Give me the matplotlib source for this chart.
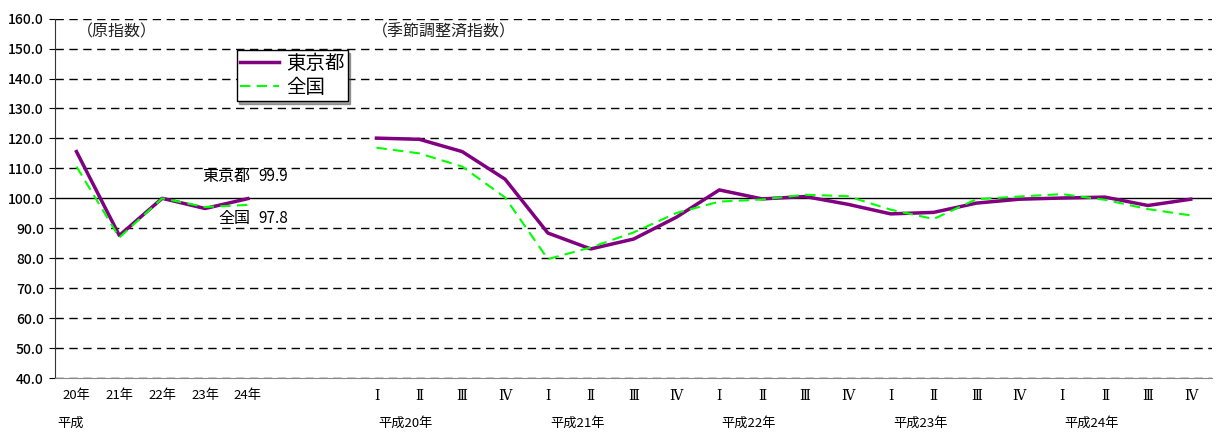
import numpy as np
import matplotlib
matplotlib.use('Agg')
import matplotlib.pyplot as plt
import matplotlib.transforms as mtransforms

plt.rcParams['font.family'] = ['Noto Sans CJK JP', 'DejaVu Sans']

# annual values (original index)
years = ['20年', '21年', '22年', '23年', '24年']
tokyo_year = [115.6, 87.6, 100.0, 96.6, 99.9]
zenkoku_year = [110.6, 86.9, 100.0, 97.1, 97.8]

# quarterly values (seasonally adjusted)
quarters = ['Ⅰ', 'Ⅱ', 'Ⅲ', 'Ⅳ'] * 5
quarter_years = ['平成20年', '平成21年', '平成22年', '平成23年', '平成24年']
tokyo_q = [120.1, 119.7, 115.6, 106.4,
           88.4, 83.1, 86.4, 93.7,
           102.8, 99.8, 100.6, 98.0,
           94.8, 95.3, 98.4, 99.7,
           100.1, 100.4, 97.6, 99.7]
zenkoku_q = [116.9, 115.0, 110.6, 100.3,
             79.7, 83.6, 88.6, 95.1,
             98.9, 99.6, 101.2, 100.7,
             96.2, 93.1, 99.7, 100.6,
             101.4, 99.5, 96.4, 94.3]

gap = 2
x_year = np.arange(len(years))
x_q = np.arange(len(quarters)) + len(years) + gap
n_cat = len(years) + gap + len(quarters)

fig = plt.figure(figsize=(12.18, 4.33), dpi=100)
ax = fig.add_axes([0.0452, 0.127, 0.950, 0.830])

purple = '#800080'
green = '#00FF00'

ax.plot(x_year, tokyo_year, color=purple, lw=2.5, label='東京都')
ax.plot(x_year, zenkoku_year, color=green, lw=1.5, ls=(0, (5, 3)), label='全国')
ax.plot(x_q, tokyo_q, color=purple, lw=2.5)
ax.plot(x_q, zenkoku_q, color=green, lw=1.5, ls=(0, (5, 3)))

ax.set_xlim(-0.5, n_cat - 0.5)
ax.set_ylim(40, 160)
yt = np.arange(40, 161, 10)
ax.set_yticks(yt)
ax.set_yticklabels(['%.1f' % v for v in yt], fontsize=10, fontweight='medium')
for v in yt:
    if v == 100:
        ax.axhline(v, color='black', lw=1.0, zorder=1)
    else:
        ax.axhline(v, color='black', lw=1.0, ls=(0, (6, 4)), zorder=1)

ax.spines['top'].set_visible(False)
ax.spines['right'].set_visible(False)
ax.spines['bottom'].set_color('#888888')
ax.spines['left'].set_color('#333333')
ax.tick_params(axis='y', length=4, pad=4)
ax.tick_params(axis='x', length=0, pad=8)

xticks = list(x_year) + list(x_q)
xlabels = years + quarters
ax.set_xticks(xticks)
ax.set_xticklabels(xlabels, fontsize=9.5)
for t in ax.get_xticklabels()[len(years):]:
    t.set_family(['DejaVu Serif', 'Noto Sans CJK JP'])
    t.set_fontsize(10)

trans = mtransforms.blended_transform_factory(ax.transData, ax.transAxes)
ax.text(-0.45, -0.125, '平成', transform=trans, fontsize=9.5, ha='left', va='center')
for i, lab in enumerate(quarter_years):
    ax.text(x_q[i * 4] + 0.05, -0.125, lab, transform=trans, fontsize=9.5,
            ha='left', va='center')

ax.text(0.0, 155.5, '（原指数）', fontsize=11.5, ha='left', va='center', color='#222222')
ax.text(6.9, 155.5, '（季節調整済指数）', fontsize=11.5, ha='left', va='center', color='#222222')

ax.text(4.05, 107.2, '東京都', fontsize=11.5, ha='right', va='center')
ax.text(4.25, 107.2, '%.1f' % tokyo_year[-1], fontsize=11, ha='left', va='center')
ax.text(4.05, 93.2, '全国', fontsize=11.5, ha='right', va='center')
ax.text(4.25, 93.2, '%.1f' % zenkoku_year[-1], fontsize=11, ha='left', va='center')

leg = ax.legend(loc='upper left', bbox_to_anchor=(0.157, 0.912), fontsize=14,
                frameon=True, fancybox=False, shadow=True, borderpad=0.15,
                handlelength=2.0, handletextpad=0.4, labelspacing=0.15,
                borderaxespad=0)
leg.get_frame().set_edgecolor('black')
leg.get_frame().set_linewidth(1.0)

fig.savefig('out.png', dpi=100)
